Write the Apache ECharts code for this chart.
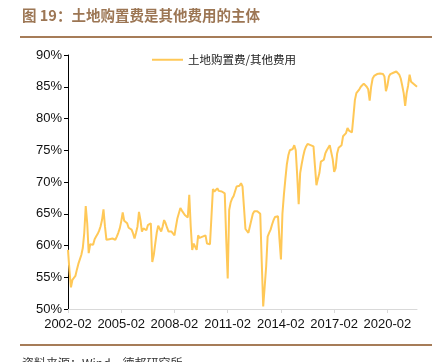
<!DOCTYPE html>
<html><head><meta charset="utf-8">
<script src="https://cdn.jsdelivr.net/npm/echarts@6/dist/echarts.min.js"></script>
<style>html,body{margin:0;padding:0;background:#fff}#c{width:437px;height:362px}</style>
</head><body><div id="c"></div>
<script>
const titleText = '图 19：土地购置费是其他费用的主体';
const sourceText = '资料来源：Wind，德邦研究所';
const seriesName = '土地购置费/其他费用';
const startYear = 2002, startMonth = 2;
const yTicks = [50, 55, 60, 65, 70, 75, 80, 85, 90];
const ratio = [
59.3,56.0,53.4,54.6,54.5,55.2,56.2,57.1,56.8,58.5,59.6,62.0,66.2,63.5,58.8,60.2,60.3,60.1,61.0,61.4,
61.8,62.3,63.0,64.0,65.7,63.0,60.9,60.8,61.0,61.2,61.1,60.8,60.9,61.4,62.0,62.7,63.8,65.2,63.9,63.6,
63.5,62.8,62.7,62.5,61.9,61.1,62.0,63.0,65.3,64.0,62.2,62.7,62.5,62.4,63.2,63.3,63.5,57.4,58.5,60.3,
62.0,63.1,62.8,62.2,63.0,64.0,63.5,62.8,62.2,62.4,62.2,61.9,61.6,63.0,64.3,64.3,65.9,65.5,65.3,64.8,
64.5,64.4,68.0,63.0,59.3,60.3,59.8,59.3,61.6,61.2,61.0,61.4,61.5,61.6,60.3,60.2,60.2,64.5,68.9,68.5,
68.8,69.0,68.6,68.3,68.5,68.3,68.2,61.0,54.8,65.6,66.8,67.4,67.8,68.0,69.3,69.3,69.4,69.8,69.3,66.0,
62.6,62.4,62.0,61.9,64.0,65.0,65.4,65.6,65.4,65.3,65.0,57.5,50.4,53.5,56.7,61.4,62.0,62.5,63.3,64.0,
64.5,64.6,64.6,61.0,57.8,65.0,68.0,70.5,72.8,74.2,75.0,75.1,75.2,75.8,75.0,71.0,66.5,71.4,72.8,74.0,
75.0,75.6,76.0,75.9,75.8,75.8,75.6,72.5,69.5,70.5,71.4,73.2,73.3,73.5,74.5,75.0,75.4,75.8,75.7,73.6,
71.6,72.2,74.5,75.4,75.5,75.8,77.2,77.4,77.7,78.5,78.1,78.0,77.8,80.3,82.9,84.0,84.3,84.6,85.0,85.3,
85.5,85.6,85.0,84.6,82.8,85.0,86.3,86.7,87.0,87.0,87.1,87.1,87.0,87.0,86.6,84.3,85.2,86.6,87.0,87.1,
87.2,87.3,87.4,87.1,86.9,86.3,85.2,84.0,82.0,84.0,85.2,86.9,85.8,85.5,85.4,85.3,85.0
];
const months = ratio.map((_, i) => {
  const t = (startMonth - 1) + i;
  const y = startYear + Math.floor(t / 12);
  const m = (t % 12) + 1;
  return y + '-' + (m < 10 ? '0' + m : m);
});

const chart = echarts.init(document.getElementById('c'), null, {renderer: 'canvas'});
chart.setOption({
  animation: false,
  backgroundColor: '#fff',
  grid: {left: 68, right: 20, top: 55, bottom: 53},
  legend: {
    show: true, left: 147, top: 49, itemWidth: 31, itemHeight: 10, itemGap: 5,
    icon: 'path://M0,4 L31,4 L31,6 L0,6 Z',
    textStyle: {fontFamily: 'Noto Sans CJK SC', fontSize: 11.5, color: '#222'},
    data: [seriesName]
  },
  xAxis: {
    type: 'category', data: months, boundaryGap: false,
    axisLine: {lineStyle: {color: '#d9d9d9', width: 1}},
    axisTick: {interval: 35, length: 4, lineStyle: {color: '#d9d9d9'}},
    axisLabel: {interval: 35, color: '#111', fontSize: 13, fontFamily: 'Liberation Sans', margin: 9}
  },
  yAxis: {
    type: 'value', min: yTicks[0], max: yTicks[yTicks.length - 1], interval: 5,
    splitLine: {show: false},
    axisLine: {show: true, lineStyle: {color: '#000', width: 1}},
    axisTick: {show: true, length: 4, lineStyle: {color: '#000'}},
    axisLabel: {formatter: '{value}%', color: '#111', fontSize: 13, fontFamily: 'Liberation Sans', margin: 6}
  },
  series: [{
    name: seriesName, type: 'line', data: ratio, showSymbol: false, symbol: 'none',
    lineStyle: {color: '#FFC857', width: 2}, itemStyle: {color: '#FFC857'}
  }],
  graphic: [
    {type: 'text', left: 22, top: 8, style: {text: titleText, fill: '#9c7654', font: 'bold 14.5px "Noto Sans CJK SC"'}},
    {type: 'rect', shape: {x: 20, y: 36, width: 412, height: 2}, style: {fill: '#a67c58'}},
    {type: 'rect', shape: {x: 20, y: 344, width: 412, height: 2}, style: {fill: '#a67c58'}},
    {type: 'text', left: 22, top: 357, style: {text: sourceText, fill: '#333', font: '12px "Noto Sans CJK SC"'}}
  ]
});
</script></body></html>
